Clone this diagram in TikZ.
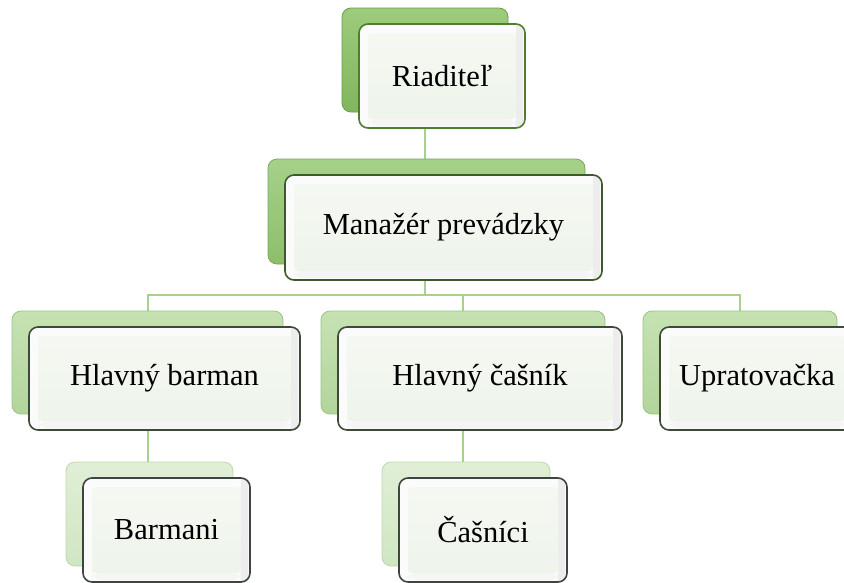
\documentclass[tikz,border=0pt]{standalone}
\usepackage{fontspec}
\setmainfont{Liberation Serif}
\usetikzlibrary{calc}
\pgfdeclarelayer{bg}
\pgfsetlayers{bg,main}
\definecolor{connc}{HTML}{A9D18E}
\definecolor{lvAt}{HTML}{9DCC7C}\definecolor{lvAb}{HTML}{80B65D}\definecolor{lvAd}{HTML}{6C9C4A}
\definecolor{lvBt}{HTML}{A6D189}\definecolor{lvBb}{HTML}{8CBF6A}\definecolor{lvBd}{HTML}{78A85A}
\definecolor{lvCt}{HTML}{C6E2B3}\definecolor{lvCb}{HTML}{B2D59B}\definecolor{lvCd}{HTML}{9CC484}
\definecolor{lvDt}{HTML}{E0EFD6}\definecolor{lvDb}{HTML}{D0E6C2}\definecolor{lvDd}{HTML}{BCD9AA}
\definecolor{frA}{HTML}{4E7E2E}
\definecolor{frB}{HTML}{3E5A2C}
\definecolor{frC}{HTML}{3E4A38}
\definecolor{frD}{HTML}{3F4440}
\definecolor{frin}{HTML}{EEF4EA}
\definecolor{frout}{HTML}{FBFBFB}
\tikzset{
  backbox/.style={rounded corners=9pt, draw=lv#1d, line width=0.8pt,
    top color=lv#1t, bottom color=lv#1b, inner sep=0pt},
  frontbox/.style={rounded corners=9pt, draw=fr#1, line width=1.6pt,
    fill=frout, inner sep=0pt, font=\fontsize{30.5}{36}\selectfont,
    path picture={
      \fill[top color=frin!60!white, bottom color=frin, rounded corners=4pt]
        ([shift={(9pt,-9pt)}]path picture bounding box.north west) rectangle
        ([shift={(-9pt,9pt)}]path picture bounding box.south east);
      \fill[black!7] ([shift={(-9pt,9pt)}]path picture bounding box.north east) rectangle
        ([shift={(-2pt,-9pt)}]path picture bounding box.south east);
      \fill[black!4] ([shift={(9pt,9pt)}]path picture bounding box.south west) rectangle
        ([shift={(-9pt,2pt)}]path picture bounding box.south east);
    }},
  conn/.style={draw=connc, line width=2pt}
}
% #1 name, #2 cx, #3 cy, #4 width, #5 height, #6 level, #7 text
\newcommand\OrgUnit[7]{%
  \node[backbox=#6, minimum width=#4pt, minimum height=#5pt] (#1b) at (#2-17,#3-16) {};
  \node[frontbox=#6, minimum width=#4pt, minimum height=#5pt] (#1) at (#2,#3) {#7};
}
\begin{document}
\begin{tikzpicture}[x=1pt,y=-1pt]
  \useasboundingbox (0,0) rectangle (844,582);
  \clip (0,0) rectangle (844,582);
  \OrgUnit{riad}{442}{76}{166}{104}{A}{Riaditeľ}
  \OrgUnit{man}{443.5}{227.5}{317}{105}{B}{Manažér prevádzky}
  \OrgUnit{hb}{164.5}{378.5}{271}{103}{C}{Hlavný barman}
  \OrgUnit{hc}{480}{378.5}{284}{103}{C}{Hlavný čašník}
  \OrgUnit{upr}{757}{378.5}{194}{103}{C}{Upratovačka}
  \OrgUnit{bar}{166.5}{530}{167}{104}{D}{Barmani}
  \OrgUnit{cas}{483}{530}{168}{104}{D}{Čašníci}
  \coordinate (bus) at (425,295);
  \begin{pgfonlayer}{bg}
    \draw[conn] (riadb.center) -- (riadb.center |- manb.north);
    \draw[conn] (bus |- manb.center) -- (bus);
    \draw[conn] (hbb.center) |- (bus) -| (uprb.center);
    \draw[conn] (hcb.center) -- (hcb.center |- bus);
    \draw[conn] (hbb.center) -- (hbb.center |- barb.north);
    \draw[conn] (hcb.center) -- (hcb.center |- casb.north);
  \end{pgfonlayer}
\end{tikzpicture}
\end{document}
